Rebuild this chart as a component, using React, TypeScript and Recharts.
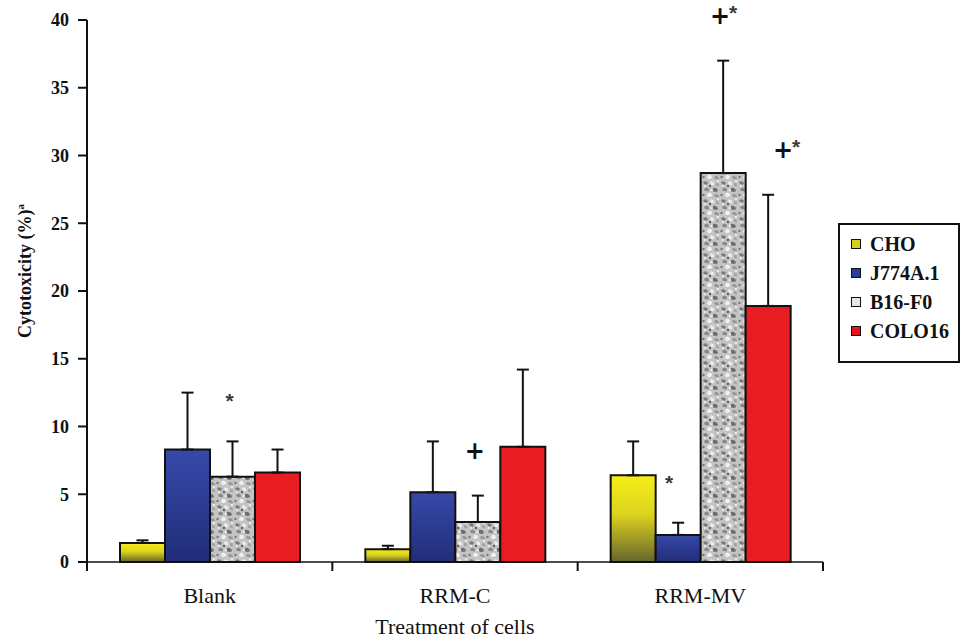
import React from 'react';
import { BarChart, Bar, XAxis, YAxis, ErrorBar, LabelList, Legend } from 'recharts';

const categories = ['Blank', 'RRM-C', 'RRM-MV'];
const seriesNames = ['CHO', 'J774A.1', 'B16-F0', 'COLO16'];
const choValues = [1.4, 0.95, 6.4];
const choErrors = [0.2, 0.25, 2.5];
const j774Values = [8.3, 5.15, 2.0];
const j774Errors = [4.2, 3.75, 0.9];
const b16Values = [6.3, 2.95, 28.7];
const b16Errors = [2.6, 1.95, 8.3];
const coloValues = [6.6, 8.5, 18.9];
const coloErrors = [1.7, 5.7, 8.2];
const choMarks = ['', '', ''];
const j774Marks = ['', '', '*'];
const b16Marks = ['*', '+', '+*'];
const coloMarks = ['', '', '+*'];
const yTicks = [0, 5, 10, 15, 20, 25, 30, 35, 40];

const valueLists = [choValues, j774Values, b16Values, coloValues];
const errorLists = [choErrors, j774Errors, b16Errors, coloErrors];
const markLists = [choMarks, j774Marks, b16Marks, coloMarks];

const data = categories.map((cat, i) => {
  const row: any = { cat };
  valueLists.forEach((vals, s) => {
    row['s' + s] = vals[i];
    row['s' + s + 'e'] = [0, errorLists[s][i]];
    row['s' + s + 'm'] = markLists[s][i];
  });
  return row;
});

const fills = ['url(#gYellow)', 'url(#gBlue)', 'url(#pSpeckle)', '#e91c24'];
const swatches = ['#d6cf1e', '#2b3c9a', '#e4e4e4', '#e8141c'];
const markDx = [0, -9, -3, 15];

const serif = 'Liberation Serif';

const PLOT_LEFT = 87;
const PLOT_RIGHT = 823;
const HALF_BAND = (PLOT_RIGHT - PLOT_LEFT) / categories.length / 2;

const makeMark = (s: number) => (props: any) => {
  const { x, y, width, height, value } = props;
  const row = value;
  if (!row || !row['s' + s + 'm']) return null;
  const mark: string = row['s' + s + 'm'];
  const v = row['s' + s];
  const err = row['s' + s + 'e'][1];
  const ppu = Number(height) / v;
  const capY = Number(y) - err * ppu;
  const cx = Number(x) + Number(width) / 2 + markDx[s];
  const cy = capY - 45;
  const hasPlus = mark.includes('+');
  const hasStar = mark.includes('*');
  return (
    <g>
      {hasPlus && (
        <text x={cx} y={cy + 8} textAnchor="middle" fontSize={24} fontWeight="bold" fontFamily="DejaVu Sans" fill="#111">
          +
        </text>
      )}
      {hasStar && (
        <text
          x={hasPlus ? cx + 13 : cx}
          y={hasPlus ? cy + 4 : cy + 12}
          textAnchor="middle"
          fontSize={21}
          fontWeight="bold"
          fontFamily="Liberation Sans"
          fill="#3a3a3a"
        >
          *
        </text>
      )}
    </g>
  );
};

const LegendBox = () => (
  <div
    style={{
      width: 122,
      height: 140,
      border: '2px solid #111',
      boxSizing: 'border-box',
      position: 'relative',
      background: '#fff',
      fontFamily: serif,
      fontWeight: 700,
      fontSize: 20,
      color: '#111',
    }}
  >
    {seriesNames.map((name, i) => (
      <div key={name} style={{ position: 'absolute', left: 11, top: 7 + i * 29, height: 24, display: 'flex', alignItems: 'center' }}>
        <div style={{ width: 8, height: 8, border: '1.5px solid #111', background: swatches[i], marginRight: 9 }} />
        <span>{name}</span>
      </div>
    ))}
  </div>
);

const CatTick = (props: any) => {
  const { x, y, payload, index } = props;
  const ty = Number(y);
  return (
    <g>
      {index === 0 && <line x1={x - HALF_BAND} y1={ty} x2={x - HALF_BAND} y2={ty + 9} stroke="#111" strokeWidth={2} />}
      <line x1={x + HALF_BAND} y1={ty} x2={x + HALF_BAND} y2={ty + 9} stroke="#111" strokeWidth={2} />
      <text x={x} y={ty + 41} textAnchor="middle" fontFamily={serif} fontSize={22} fill="#111">
        {payload.value}
      </text>
    </g>
  );
};

export default function App() {
  return (
    <div style={{ position: 'absolute', left: 0, top: 0, width: 962, height: 641, background: '#fff' }}>
      <BarChart
        width={962}
        height={641}
        data={data}
        margin={{ top: 20, right: 139, bottom: 19, left: 27 }}
        barGap={0}
        barSize={45}
      >
        <defs>
          <linearGradient id="gYellow" x1="0" y1="0" x2="0" y2="1">
            <stop offset="0%" stopColor="#f6ee18" />
            <stop offset="45%" stopColor="#dcd31e" />
            <stop offset="100%" stopColor="#67652c" />
          </linearGradient>
          <linearGradient id="gBlue" x1="0" y1="0" x2="0" y2="1">
            <stop offset="0%" stopColor="#3549a8" />
            <stop offset="100%" stopColor="#222d7a" />
          </linearGradient>
          <pattern id="pSpeckle" width="18" height="18" patternUnits="userSpaceOnUse">
            <rect width="18" height="18" fill="#c4c4c4" />
            <path d="M1 2 Q4 0 6 3 Q5 6 2 4 Z" fill="#7a7a7a" />
            <path d="M9 1 Q13 2 12 5 Q9 6 8 3 Z" fill="#eeeeee" />
            <path d="M3 8 Q7 7 7 11 Q4 12 2 10 Z" fill="#888888" />
            <path d="M11 8 Q15 7 16 11 Q13 13 11 11 Z" fill="#6e6e6e" />
            <path d="M6 13 Q10 12 10 16 Q7 18 5 16 Z" fill="#f0f0f0" />
            <path d="M13 14 Q17 14 17 17 Q15 18 12 16 Z" fill="#959595" />
            <path d="M14 3 Q17 3 17 6 Q15 7 14 5 Z" fill="#a0a0a0" />
            <circle cx="8" cy="6" r="1.2" fill="#5e5e5e" />
            <circle cx="1.5" cy="15" r="1.2" fill="#777" />
            <circle cx="16" cy="1" r="1" fill="#fafafa" />
            <circle cx="9.5" cy="10" r="1" fill="#f5f5f5" />
            <circle cx="3" cy="6" r="0.9" fill="#f8f8f8" />
          </pattern>
        </defs>
        <XAxis
          dataKey="cat"
          tickLine={false}
          tickSize={0}
          tickMargin={0}
          axisLine={{ stroke: '#111', strokeWidth: 1.5 }}
          tick={<CatTick />}
          height={60}
          interval={0}
          label={{
            content: () => (
              <text x={455} y={634} textAnchor="middle" fontFamily={serif} fontSize={22} fill="#111">
                Treatment of cells
              </text>
            ),
          }}
        />
        <YAxis
          width={60}
          domain={[0, 40]}
          ticks={yTicks}
          interval={0}
          tickSize={9}
          tickMargin={9}
          axisLine={{ stroke: '#111', strokeWidth: 2 }}
          tickLine={{ stroke: '#111', strokeWidth: 2 }}
          tick={{ fontFamily: serif, fontWeight: 700, fontSize: 18, fill: '#111' }}
          label={{
            content: () => (
              <text
                transform="translate(31,271) rotate(-90)"
                textAnchor="middle"
                fontFamily={serif}
                fontWeight={700}
                fontSize={18}
                fill="#111"
              >
                Cytotoxicity (%)
                <tspan dy={-7} fontSize={11}>a</tspan>
              </text>
            ),
          }}
        />
        <Legend
          layout="horizontal"
          verticalAlign="middle"
          align="center"
          wrapperStyle={{ left: 838, top: 223, width: 122, height: 140 }}
          content={() => <LegendBox />}
        />
        {valueLists.map((_, s) => (
          <Bar
            key={s}
            dataKey={'s' + s}
            name={seriesNames[s]}
            fill={fills[s]}
            stroke="#111"
            strokeWidth={2}
            isAnimationActive={false}
          >
            <ErrorBar dataKey={'s' + s + 'e'} width={6} strokeWidth={2} stroke="#111" direction="y" />
            <LabelList dataKey={(d: any) => d} content={makeMark(s)} />
          </Bar>
        ))}
      </BarChart>
    </div>
  );
}
